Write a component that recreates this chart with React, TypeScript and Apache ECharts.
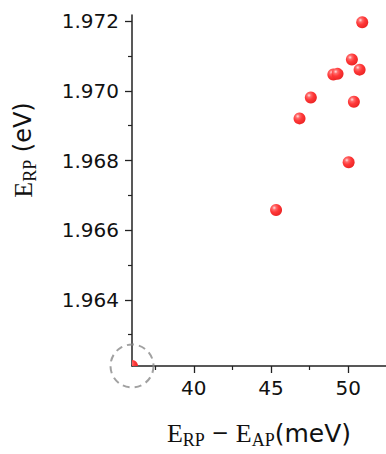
import React, { useEffect, useRef } from "react";
import * as echarts from "echarts";

// Data
const xValues = [50.91, 50.24, 50.74, 49.04, 49.31, 47.58, 46.85, 50.37, 50.03, 45.33, 36.0];
const yValues = [1.97197, 1.9709, 1.97061, 1.97047, 1.97049, 1.96981, 1.96921, 1.96969, 1.96795, 1.96658, 1.9621];
const highlightPoint = [36.0, 1.9621];

const xMajorTicks = [40, 45, 50];
const xMinorTicks = [37.5, 42.5, 47.5];
const yMajorTicks = [1.964, 1.966, 1.968, 1.97, 1.972];
const yMinorTicks = [1.963, 1.965, 1.967, 1.969, 1.971];

const X_MIN = 36;
const X_MAX = 52.45;
const Y_MIN = 1.9621;
const Y_MAX = 1.97218;

export default function App() {
  const ref = useRef<HTMLDivElement>(null);
  useEffect(() => {
    document.body.style.margin = "0";
    if (!ref.current) return;
    const chart = echarts.init(ref.current, null, { renderer: "svg" });
    const points = xValues.map((x, i) => [x, yValues[i]]);
    const axisColor = "#222";
    const labelFont = "'DejaVu Sans', 'Liberation Sans', Arial, sans-serif";
    const serif = "'Liberation Serif', 'DejaVu Serif', serif";
    const richName = {
      e: { fontFamily: serif, fontSize: 26, color: "#111", lineHeight: 32 },
      sub: { fontFamily: serif, fontSize: 18, color: "#111", lineHeight: 24, verticalAlign: "bottom" },
      s: { fontFamily: labelFont, fontSize: 24, color: "#111", lineHeight: 32 },
      w: { fontFamily: labelFont, fontSize: 25, color: "#111", lineHeight: 32 },
      m: { fontFamily: labelFont, fontSize: 21, color: "#111", lineHeight: 32 },
    };
    chart.setOption({
      animation: false,
      grid: { left: 132, right: 0, top: 15, bottom: 87, containLabel: false },
      xAxis: [
        {
          type: "value",
          min: X_MIN,
          max: X_MAX,
          position: "bottom",
          splitLine: { show: false },
          axisLine: { show: true, onZero: false, lineStyle: { color: axisColor, width: 1.5 } },
          axisTick: { show: true, length: 7, customValues: xMajorTicks, lineStyle: { color: axisColor, width: 1.3 } },
          axisLabel: {
            customValues: xMajorTicks,
            margin: 12,
            fontSize: 20,
            fontFamily: labelFont,
            color: "#111",
          },
          name: "{e|E}{sub|RP}{m| − }{e|E}{sub|AP}{w|(meV)}",
          nameLocation: "middle",
          nameGap: 51,
          nameTextStyle: { rich: richName },
        },
        {
          type: "value",
          min: X_MIN,
          max: X_MAX,
          position: "bottom",
          offset: 0,
          splitLine: { show: false },
          axisLine: { show: false, onZero: false },
          axisTick: { show: true, length: 4, customValues: xMinorTicks, lineStyle: { color: axisColor, width: 1.2 } },
          axisLabel: { show: false },
        },
      ],
      yAxis: [
        {
          type: "value",
          min: Y_MIN,
          max: Y_MAX,
          position: "left",
          splitLine: { show: false },
          axisLine: { show: true, onZero: false, lineStyle: { color: axisColor, width: 1.5 } },
          axisTick: { show: true, length: 7, customValues: yMajorTicks, lineStyle: { color: axisColor, width: 1.3 } },
          axisLabel: {
            customValues: yMajorTicks,
            margin: 13,
            fontSize: 20,
            fontFamily: labelFont,
            color: "#111",
            formatter: (v: number) => v.toFixed(3),
          },
          name: "{e|E}{sub|RP}{s| (eV)}",
          nameLocation: "middle",
          nameRotate: 90,
          nameGap: 93,
          nameTextStyle: { rich: richName, padding: [0, 0, 0, 81] },
        },
        {
          type: "value",
          min: Y_MIN,
          max: Y_MAX,
          position: "left",
          offset: 0,
          splitLine: { show: false },
          axisLine: { show: false, onZero: false },
          axisTick: { show: true, length: 4, customValues: yMinorTicks, lineStyle: { color: axisColor, width: 1.2 } },
          axisLabel: { show: false },
        },
      ],
      series: [
        {
          type: "custom",
          clip: true,
          xAxisIndex: 0,
          yAxisIndex: 0,
          data: points,
          renderItem: (params: any, api: any) => {
            const c = api.coord([api.value(0), api.value(1)]);
            return {
              type: "circle",
              shape: { cx: c[0], cy: c[1], r: 6 },
              style: {
                fill: {
                  type: "radial",
                  x: 0.35,
                  y: 0.32,
                  r: 0.75,
                  colorStops: [
                    { offset: 0, color: "#ffe0e0" },
                    { offset: 0.22, color: "#ff6a6a" },
                    { offset: 0.5, color: "#ff3838" },
                    { offset: 1, color: "#e82222" },
                  ],
                },
                stroke: "none",
              },
            };
          },
        },
        {
          type: "scatter",
          clip: false,
          xAxisIndex: 0,
          yAxisIndex: 0,
          symbol: "circle",
          symbolSize: 43,
          silent: true,
          data: [highlightPoint],
          itemStyle: {
            color: "rgba(0,0,0,0)",
            borderColor: "#8a8a8a",
            borderWidth: 2,
            borderType: [7, 5],
          },
          z: 5,
        },
      ],
    });
    return () => chart.dispose();
  }, []);
  return <div ref={ref} style={{ width: 386, height: 454 }} />;
}
